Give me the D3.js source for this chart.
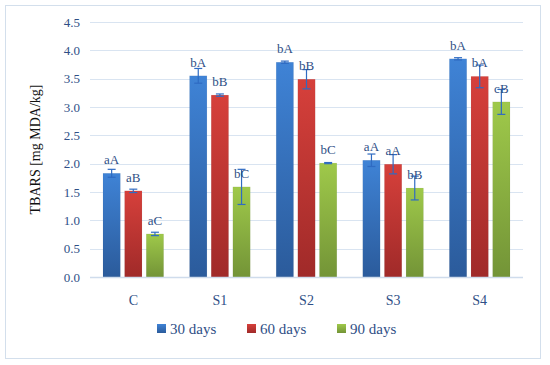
<!DOCTYPE html>
<html>
<head>
<meta charset="utf-8">
<script src="https://cdn.jsdelivr.net/npm/d3@7"></script>
<style>
  body { margin: 0; background: #fff; }
  svg text { font-family: "Liberation Serif", "DejaVu Serif", serif; }
</style>
</head>
<body>
<div id="chart"></div>
<script>
// Chart data
const groups = ["C", "S1", "S2", "S3", "S4"];
const seriesNames = ["30 days", "60 days", "90 days"];
const values30 = [1.83, 3.55, 3.79, 2.06, 3.85];
const values60 = [1.52, 3.21, 3.49, 1.99, 3.54];
const values90 = [0.76, 1.59, 2.01, 1.57, 3.09];
const errors30 = [0.07, 0.13, 0.02, 0.11, 0.02];
const errors60 = [0.03, 0.02, 0.17, 0.17, 0.20];
const errors90 = [0.03, 0.31, 0.01, 0.21, 0.22];
const labels30 = ["aA", "bA", "bA", "aA", "bA"];
const labels60 = ["aB", "bB", "bB", "aA", "bA"];
const labels90 = ["aC", "bC", "bC", "bB", "cB"];
const yTicks = [0, 0.5, 1.0, 1.5, 2.0, 2.5, 3.0, 3.5, 4.0, 4.5];

const series = [
    { name: seriesNames[0], values: values30, errors: errors30, labels: labels30 },
    { name: seriesNames[1], values: values60, errors: errors60, labels: labels60 },
    { name: seriesNames[2], values: values90, errors: errors90, labels: labels90 }
];

const width = 550, height = 365;
const margin = { top: 22, right: 27, bottom: 88, left: 90 };
const font = "'Liberation Serif', 'DejaVu Serif', serif";

const svg = d3.select("#chart").append("svg")
    .attr("width", width)
    .attr("height", height)
    .attr("font-family", font);

// Gradients for the bars
const gradColors = [["#3f83d6", "#2b5b9b"], ["#d6403b", "#a02a29"], ["#9fc94a", "#739437"]];
const defs = svg.append("defs");
gradColors.forEach((c, i) => {
    const g = defs.append("linearGradient")
        .attr("id", "grad" + i)
        .attr("x1", 0).attr("y1", 0).attr("x2", 0).attr("y2", 1);
    g.append("stop").attr("offset", "0%").attr("stop-color", c[0]);
    g.append("stop").attr("offset", "100%").attr("stop-color", c[1]);
});

// Outer frame
svg.append("rect")
    .attr("x", 5.5).attr("y", 5.5)
    .attr("width", 535).attr("height", 353)
    .attr("fill", "none")
    .attr("stroke", "#d3dfec")
    .attr("stroke-width", 1);

const plotW = width - margin.left - margin.right;
const plotH = 277 - margin.top;

const g = svg.append("g")
    .attr("transform", `translate(${margin.left},${margin.top})`);

const x0 = d3.scaleBand()
    .domain(groups)
    .range([0, plotW])
    .paddingInner(0.3)
    .paddingOuter(0.15);

const x1 = d3.scaleBand()
    .domain(seriesNames)
    .range([0, x0.bandwidth()])
    .paddingInner(0.2);

const y = d3.scaleLinear()
    .domain([0, 4.5])
    .range([plotH, 0]);

// Gridlines
g.append("g")
    .selectAll("line")
    .data(yTicks.slice(1))
    .enter().append("line")
    .attr("x1", 0).attr("x2", plotW)
    .attr("y1", d => Math.round(y(d)) + 0.5)
    .attr("y2", d => Math.round(y(d)) + 0.5)
    .attr("stroke", "#d9e4f1")
    .attr("stroke-width", 1.2);

// Y axis labels
const yAxis = g.append("g")
    .call(d3.axisLeft(y).tickValues(yTicks).tickFormat(d3.format(".1f")).tickSize(0).tickPadding(10));
yAxis.attr("font-family", font);
yAxis.select(".domain").remove();
yAxis.selectAll("text")
    .attr("font-size", 13)
    .attr("fill", "#2f4f86");

// Bars
const groupSel = g.append("g")
    .selectAll("g")
    .data(series)
    .enter().append("g")
    .attr("fill", (d, i) => `url(#grad${i})`);

groupSel.selectAll("rect")
    .data(s => s.values.map((v, j) => ({ s: s.name, group: groups[j], v })))
    .enter().append("rect")
    .attr("x", d => x0(d.group) + x1(d.s))
    .attr("y", d => y(d.v))
    .attr("width", x1.bandwidth())
    .attr("height", d => y(0) - y(d.v))
    .attr("stroke", "rgba(0,0,0,0.08)")
    .attr("stroke-width", 0.5);

// Baseline
g.append("line")
    .attr("x1", 0).attr("x2", plotW)
    .attr("y1", y(0) + 0.5).attr("y2", y(0) + 0.5)
    .attr("stroke", "#cfdcec")
    .attr("stroke-width", 1.5);

// Error bars
const errData = [];
series.forEach(s => s.values.forEach((v, j) => {
    errData.push({ s: s.name, group: groups[j], v, e: s.errors[j], label: s.labels[j] });
}));
const cx = d => x0(d.group) + x1(d.s) + x1.bandwidth() / 2;

const err = g.append("g")
    .attr("stroke", "#2f6bc2")
    .attr("stroke-width", 1.2);
err.selectAll("line.v")
    .data(errData)
    .enter().append("line")
    .attr("class", "v")
    .attr("x1", cx).attr("x2", cx)
    .attr("y1", d => y(d.v + d.e)).attr("y2", d => y(d.v - d.e));
err.selectAll("line.t")
    .data(errData)
    .enter().append("line")
    .attr("class", "t")
    .attr("x1", d => cx(d) - 4).attr("x2", d => cx(d) + 4)
    .attr("y1", d => y(d.v + d.e)).attr("y2", d => y(d.v + d.e));
err.selectAll("line.b")
    .data(errData)
    .enter().append("line")
    .attr("class", "b")
    .attr("x1", d => cx(d) - 4).attr("x2", d => cx(d) + 4)
    .attr("y1", d => y(d.v - d.e)).attr("y2", d => y(d.v - d.e));

// Data labels
g.append("g")
    .selectAll("text")
    .data(errData)
    .enter().append("text")
    .attr("x", cx)
    .attr("y", d => y(d.v) - 9)
    .attr("text-anchor", "middle")
    .attr("font-size", 13)
    .attr("fill", "#2f4f86")
    .text(d => d.label);

// X axis labels
g.append("g")
    .selectAll("text")
    .data(groups)
    .enter().append("text")
    .attr("x", d => x0(d) + x0.bandwidth() / 2)
    .attr("y", y(0) + 28)
    .attr("text-anchor", "middle")
    .attr("font-size", 14)
    .attr("fill", "#2f4f86")
    .text(d => d);

// Y axis title
svg.append("text")
    .attr("transform", `translate(40,${margin.top + plotH / 2}) rotate(-90)`)
    .attr("text-anchor", "middle")
    .attr("font-size", 14)
    .attr("fill", "#111")
    .text("TBARS [mg MDA/kg]");

// Legend
const legendX = [157, 247, 337];
const legend = svg.append("g")
    .selectAll("g")
    .data(seriesNames)
    .enter().append("g")
    .attr("transform", (d, i) => `translate(${legendX[i]},324)`);
legend.append("rect")
    .attr("width", 9).attr("height", 9)
    .attr("fill", (d, i) => `url(#grad${i})`);
legend.append("text")
    .attr("x", 13)
    .attr("y", 9.5)
    .attr("font-size", 15)
    .attr("fill", "#2f4f86")
    .text(d => d);
</script>
</body>
</html>
